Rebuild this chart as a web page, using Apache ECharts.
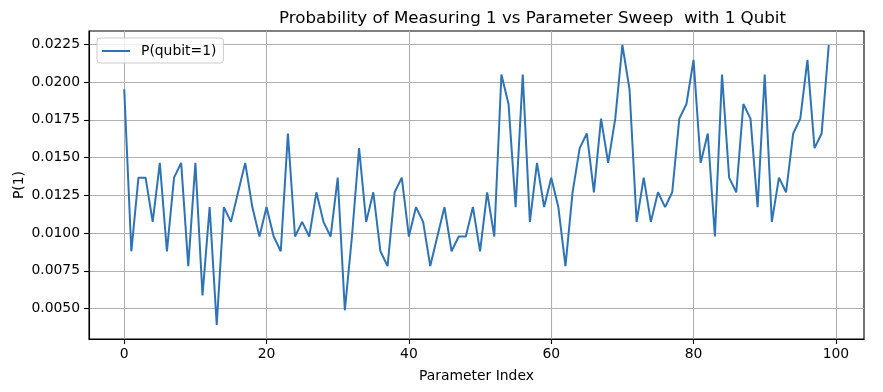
<!DOCTYPE html>
<html><head><meta charset="utf-8">
<script src="https://cdn.jsdelivr.net/npm/echarts@6/dist/echarts.min.js"></script>
<style>html,body{margin:0;padding:0;background:#fff}#c{width:883px;height:392px}</style>
</head><body><div id="c"></div>
<script>
// P(qubit=1) values, index 0..99
const probPart1 = [0.01953,0.00879,0.01367,0.01367,0.01074,0.01465,0.00879,0.01367,0.01465,0.00781,0.01465,0.00586,0.01172,0.00391,0.01172,0.01074,0.01270,0.01465,0.01172,0.00977,0.01172,0.00977,0.00879,0.01660];
const probPart2 = [0.00977,0.01074,0.00977,0.01270,0.01074,0.00977,0.01367,0.00488,0.00977,0.01563,0.01074,0.01270,0.00879,0.00781,0.01270,0.01367,0.00977,0.01172,0.01074,0.00781,0.00977,0.01172,0.00879,0.00977];
const probPart3 = [0.00977,0.01172,0.00879,0.01270,0.00977,0.02051,0.01855,0.01172,0.02051,0.01074,0.01465,0.01172,0.01367,0.01172,0.00781,0.01270,0.01563,0.01660,0.01270,0.01758,0.01465,0.01758,0.02246];
const probPart4 = [0.01953,0.01074,0.01367,0.01074,0.01270,0.01172,0.01270,0.01758,0.01855,0.02148,0.01465,0.01660,0.00977,0.02051,0.01367,0.01270,0.01855,0.01758,0.01172,0.02051,0.01074,0.01367,0.01270,0.01660,0.01758,0.02148,0.01563,0.01660,0.02246];
const xTicks = [0, 20, 40, 60, 80, 100];
const yTicks = [0.0050, 0.0075, 0.0100, 0.0125, 0.0150, 0.0175, 0.0200, 0.0225];
const seriesName = 'P(qubit=1)';
const titleText = 'Probability of Measuring 1 vs Parameter Sweep  with 1 Qubit';

const probs = probPart1.concat(probPart2, probPart3, probPart4);
const data = probs.map((v, i) => [i, v]);
const font = 'DejaVu Sans';
const lineColor = '#2f73b4';
const chart = echarts.init(document.getElementById('c'), null, {renderer: 'canvas'});
chart.setOption({
  animation: false,
  backgroundColor: '#ffffff',
  title: {
    text: titleText, left: 279, top: 10, padding: 0,
    textStyle: {fontFamily: font, fontSize: 16.7, fontWeight: 'normal', color: '#000'}
  },
  grid: {left: 89, right: 19, top: 31, bottom: 53, show: true, borderColor: '#000', borderWidth: 1.1,
         containLabel: false, outerBoundsMode: 'none'},
  legend: {
    data: [seriesName], left: 97, top: 38, orient: 'vertical',
    padding: [5, 7, 4, 5], itemWidth: 28, itemHeight: 2, icon: 'rect',
    itemStyle: {color: lineColor, borderWidth: 0},
    backgroundColor: 'rgba(255,255,255,0.8)', borderColor: '#cccccc', borderWidth: 1, borderRadius: 3,
    textStyle: {fontFamily: font, fontSize: 13.9, color: '#000', padding: [0, 0, 0, 6], lineHeight: 16}
  },
  xAxis: {
    type: 'value', min: -4.95, max: 103.95,
    name: 'Parameter Index', nameLocation: 'middle', nameGap: 30, nameMoveOverlap: false,
    nameTextStyle: {fontFamily: font, fontSize: 13.9, color: '#000'},
    axisLine: {show: true, onZero: false, lineStyle: {color: '#000', width: 1.1}},
    axisTick: {show: true, inside: false, length: 5, customValues: xTicks, lineStyle: {color: '#000', width: 1.1}},
    axisLabel: {customValues: xTicks, margin: 8, fontFamily: font, fontSize: 13.9, color: '#000'},
    splitLine: {show: true, lineStyle: {color: '#b0b0b0', width: 1.1}}
  },
  yAxis: {
    type: 'value', min: 0.002979, max: 0.023389,
    name: 'P(1)', nameLocation: 'middle', nameGap: 63, nameMoveOverlap: false,
    nameTextStyle: {fontFamily: font, fontSize: 13.9, color: '#000'},
    axisLine: {show: true, onZero: false, lineStyle: {color: '#000', width: 1.1}},
    axisTick: {show: true, inside: false, length: 5, customValues: yTicks, lineStyle: {color: '#000', width: 1.1}},
    axisLabel: {customValues: yTicks, margin: 9, fontFamily: font, fontSize: 13.9, color: '#000',
                formatter: v => v.toFixed(4)},
    splitLine: {show: true, lineStyle: {color: '#b0b0b0', width: 1.1}}
  },
  series: [{
    name: seriesName, type: 'line', data: data, symbol: 'none', showSymbol: false,
    lineStyle: {color: lineColor, width: 2}, itemStyle: {color: lineColor}, clip: true
  }]
});
</script></body></html>
